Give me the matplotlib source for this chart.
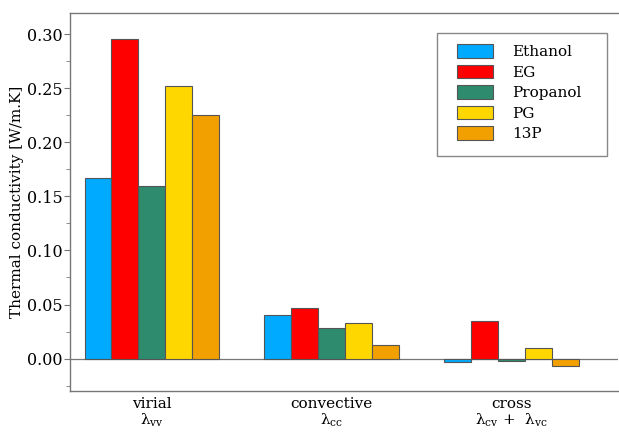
import numpy as np
import matplotlib
matplotlib.use('Agg')
import matplotlib.pyplot as plt
import matplotlib.ticker as ticker
from matplotlib.patches import Rectangle

plt.rcParams['font.family'] = ['DejaVu Serif']
plt.rcParams['mathtext.fontset'] = 'dejavuserif'

# conductivity contributions per fluid, W/m.K
groups = ['virial\nλ$_{\\mathregular{vv}}$',
          'convective\nλ$_{\\mathregular{cc}}$',
          'cross\nλ$_{\\mathregular{cv}}$ +  λ$_{\\mathregular{vc}}$']
fluids = ['Ethanol', 'EG', 'Propanol', 'PG', '13P']
ethanol = [0.167, 0.040, -0.003]
eg = [0.296, 0.0465, 0.0345]
propanol = [0.160, 0.028, -0.002]
pg = [0.252, 0.033, 0.010]
p13 = [0.225, 0.0125, -0.007]
colors = ['#00aaff', '#ff0000', '#2e8b6e', '#ffd700', '#f2a000']

series = [ethanol, eg, propanol, pg, p13]

fig = plt.figure(figsize=(6.19, 4.34), dpi=100)
ax = fig.add_axes([0.113, 0.099, 0.885, 0.872])

x = np.arange(len(groups))
w = 0.15
for i, (vals, name, c) in enumerate(zip(series, fluids, colors)):
    ax.bar(x + (i - 2) * w, vals, w, color=c, edgecolor='#555555',
           linewidth=0.8, label=name, zorder=2)

ax.axhline(0, color='#777777', linewidth=0.9, zorder=1)

ax.set_xlim(-0.456, 2.59)
ax.set_ylim(-0.03, 0.32)
ax.set_xticks(x)
ax.set_xticklabels(groups, fontsize=11, linespacing=1.05)
ax.tick_params(axis='x', length=0, pad=4)
ax.yaxis.set_major_locator(ticker.MultipleLocator(0.05))
ax.yaxis.set_minor_locator(ticker.MultipleLocator(0.025))
ax.yaxis.set_major_formatter(ticker.FormatStrFormatter('%.2f'))
ax.tick_params(axis='y', which='major', length=4, pad=1.5, color='#777777',
               labelsize=11.5)
ax.tick_params(axis='y', which='minor', length=3, color='#777777')
ax.set_ylabel('Thermal conductivity [W/m.K]', fontsize=11, labelpad=2)

for s in ['top', 'left', 'bottom']:
    ax.spines[s].set_color('#777777')
    ax.spines[s].set_linewidth(1.0)
ax.spines['right'].set_visible(False)

# legend entries without their own frame, boxed by a wider rectangle
leg = ax.legend(loc='upper left', bbox_to_anchor=(0.706, 0.917), fontsize=11,
                frameon=False, handlelength=2.35, handleheight=1.0,
                borderpad=0.0, labelspacing=0.36, handletextpad=1.3,
                borderaxespad=0.0)
ax.add_patch(Rectangle((0.670, 0.621), 0.310, 0.325, transform=ax.transAxes,
                       facecolor='white', edgecolor='#888888', linewidth=1.0,
                       zorder=4))
leg.set_zorder(5)

plt.savefig('out.png', dpi=100)
